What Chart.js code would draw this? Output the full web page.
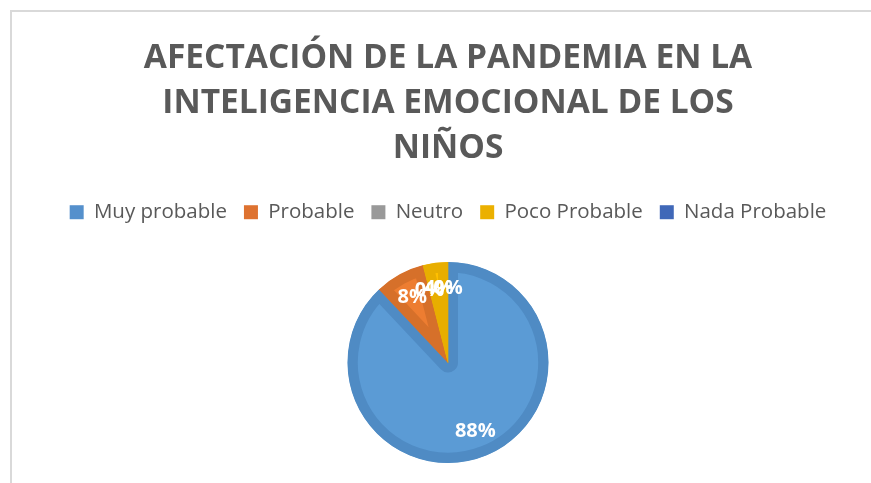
<!DOCTYPE html>
<html>
<head>
<meta charset="utf-8">
<script src="https://cdn.jsdelivr.net/npm/chart.js@4.4.0/dist/chart.umd.min.js"></script>
<style>
  html, body { margin: 0; padding: 0; background: #fff; }
  #wrap { position: relative; width: 871px; height: 483px; }
</style>
</head>
<body>
<div id="wrap"><canvas id="c" width="871" height="483"></canvas></div>
<script>
const titleLines = ['AFECTACIÓN DE LA PANDEMIA EN LA', 'INTELIGENCIA EMOCIONAL DE LOS', 'NIÑOS'];
const categories = ['Muy probable', 'Probable', 'Neutro', 'Poco Probable', 'Nada Probable'];
const percentValues = [88, 8, 0, 4, 0];
const fillColors = ['#5B9BD5', '#ED7D31', '#A5A5A5', '#FFC000', '#4472C4'];
const edgeColors = ['#4F8BC4', '#D6702A', '#939393', '#E8AE00', '#3D66B0'];
const legendColors = ['#5590CC', '#DE7230', '#999999', '#EBB000', '#4068B8'];

const frameBorder = {
  id: 'frameBorder',
  beforeDraw(chart) {
    const ctx = chart.ctx;
    ctx.save();
    ctx.strokeStyle = '#D9D9D9';
    ctx.lineWidth = 2;
    ctx.beginPath();
    ctx.moveTo(11, 483);
    ctx.lineTo(11, 11);
    ctx.lineTo(871, 11);
    ctx.stroke();
    ctx.restore();
  }
};

const legendHeight = {
  id: 'legendHeight',
  beforeInit(chart) {
    const lg = chart.legend;
    const orig = lg.fit;
    lg.fit = function () {
      orig.call(this);
      this.height = 77;
    };
  }
};

const sliceLabels = {
  id: 'sliceLabels',
  afterDatasetsDraw(chart) {
    const ctx = chart.ctx;
    const meta = chart.getDatasetMeta(0);
    ctx.save();
    ctx.fillStyle = '#FFFFFF';
    ctx.font = 'bold 20px "Open Sans"';
    ctx.textAlign = 'center';
    ctx.textBaseline = 'middle';
    meta.data.forEach((arc, i) => {
      const p = arc.getProps(['x', 'y', 'startAngle', 'endAngle', 'outerRadius'], true);
      const mid = (p.startAngle + p.endAngle) / 2;
      const r = p.outerRadius * 0.74;
      const x = p.x + Math.cos(mid) * r;
      const y = p.y + Math.sin(mid) * r;
      ctx.fillText(percentValues[i] + '%', x, y);
    });
    ctx.restore();
  }
};

new Chart(document.getElementById('c'), {
  type: 'pie',
  data: {
    labels: categories,
    datasets: [{
      data: percentValues,
      backgroundColor: fillColors,
      borderColor: edgeColors,
      borderWidth: 10,
      borderAlign: 'inner',
      hoverOffset: 0
    }]
  },
  options: {
    responsive: false,
    animation: false,
    layout: { padding: { left: 25, right: 0, top: 36, bottom: 20 } },
    plugins: {
      title: {
        display: true,
        text: titleLines,
        color: '#595959',
        font: { family: '"Open Sans"', size: 33.5, weight: 'bold', lineHeight: 1.343 },
        padding: { top: 0, bottom: 14 }
      },
      legend: {
        position: 'top',
        labels: {
          color: '#595959',
          font: { family: '"Open Sans"', size: 20.5 },
          boxWidth: 14,
          boxHeight: 14,
          padding: 17,
          generateLabels(chart) {
            return categories.map((c, i) => ({
              text: c,
              fillStyle: legendColors[i],
              strokeStyle: legendColors[i],
              lineWidth: 0,
              fontColor: '#595959',
              hidden: false,
              index: i
            }));
          }
        }
      },
      tooltip: { enabled: false }
    }
  },
  plugins: [frameBorder, legendHeight, sliceLabels]
});
</script>
</body>
</html>
